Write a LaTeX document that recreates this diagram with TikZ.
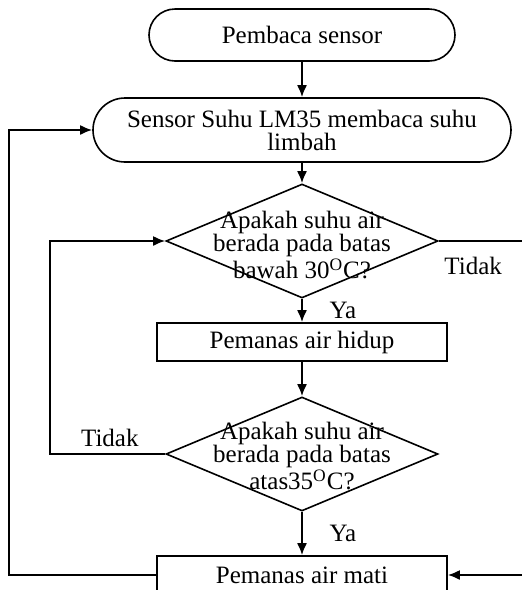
\documentclass[tikz,border=0pt]{standalone}
\usepackage{fontspec}
\setmainfont{Liberation Serif}
\usetikzlibrary{shapes,arrows.meta,positioning}

\begin{document}
\begin{tikzpicture}[x=0.5pt, y=-0.5pt, node distance=50pt, auto, font=\fontsize{12.5}{11.5}\selectfont]
\tikzstyle{terminal} = [rectangle, draw, line width=0.8pt, align=center, inner sep=0pt]
\tikzstyle{block} = [rectangle, draw, line width=0.8pt, minimum width=145pt, minimum height=19pt, inner sep=0pt]
\tikzstyle{decision} = [diamond, draw, line width=0.8pt, minimum width=136pt, minimum height=57pt, inner sep=0pt]
\tikzstyle{line} = [draw, line width=1pt, -{Latex[length=6pt,width=5pt]}]

\useasboundingbox (0,0) rectangle (522,590);

\node [terminal, rounded corners=13pt, minimum width=153pt, minimum height=26pt] (start) at (302,35) {Pembaca sensor};
\node [terminal, rounded corners=16pt, minimum width=209pt, minimum height=32pt, below of=start, yshift=2.5pt] (sensor) {Sensor Suhu LM35 membaca suhu\\limbah};
\node [decision, below of=sensor, yshift=-5.5pt, label={[align=center, yshift=-2pt]center:Apakah suhu air\\berada pada batas\\bawah 30\textsuperscript{O}C?}] (low) {};
\node [block, below of=low, yshift=-0.5pt] (heaton) {Pemanas air hidup};
\node [decision, below of=heaton, yshift=-6pt, label={[align=center, yshift=-1pt]center:Apakah suhu air\\berada pada batas\\atas35\textsuperscript{O}C?}] (high) {};
\node [block, below of=high, yshift=-10.5pt] (heatoff) {Pemanas air mati};

\path [line] (start) -- (sensor);
\path [line] (sensor) -- (low);
\path [line] (low) -- node [right, xshift=10pt] {Ya} (heaton);
\path [line] (heaton) -- (high);
\path [line] (high) -- node [right, xshift=10pt] {Ya} (heatoff);
\path [line] (high.west) node [above left, xshift=-9.5pt] {Tidak} -- ++(-57.5pt,0) |- (low.west);
\path [line] (low.east) node [below right, xshift=-1pt, yshift=-4pt] {Tidak} -- ++(43pt,0) |- (heatoff.east);
\path [line] (heatoff.west) -- ++(-73.5pt,0) |- (sensor.west);
\end{tikzpicture}
\end{document}
